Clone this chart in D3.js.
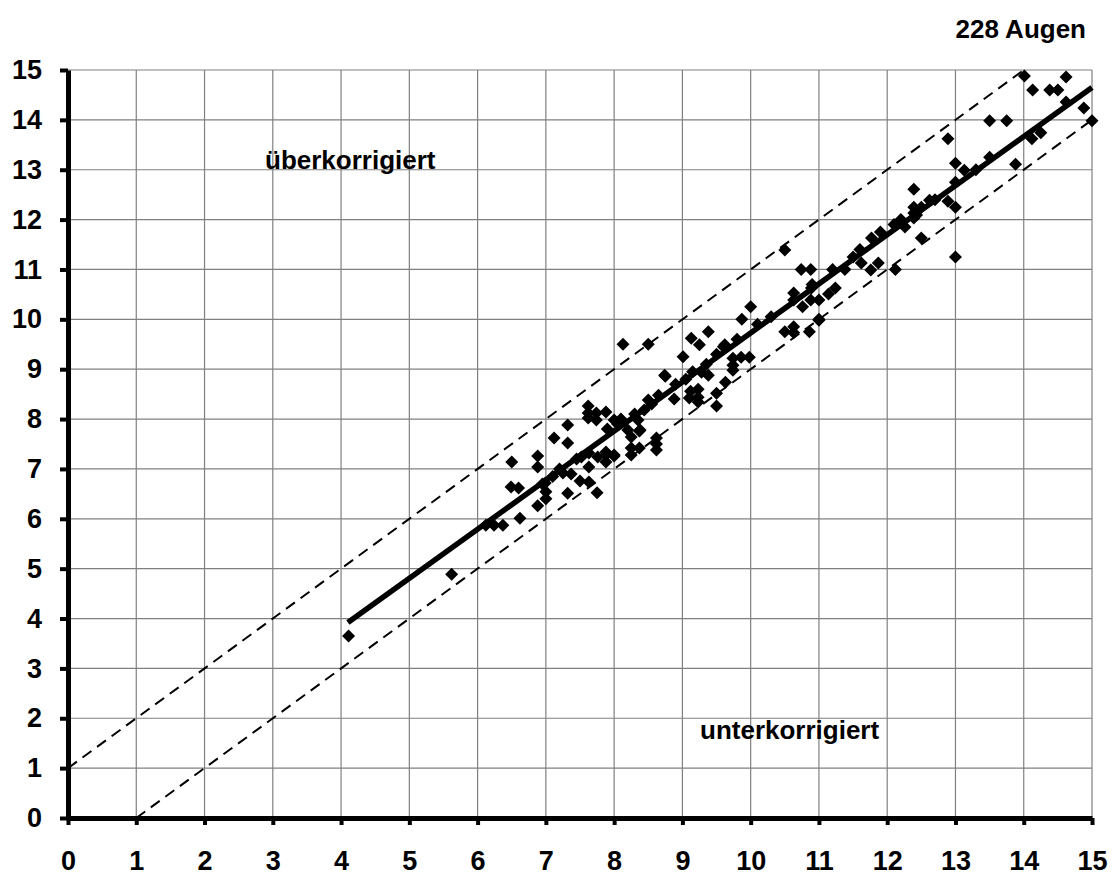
<!DOCTYPE html>
<html>
<head>
<meta charset="utf-8">
<script src="https://cdn.jsdelivr.net/npm/d3@7"></script>
<style>
  body { margin: 0; background: #fff; }
  text { font-family: Arial, "Liberation Sans", sans-serif; font-weight: bold; }
</style>
</head>
<body>
<svg id="chart"></svg>
<script>
var width = 1116,
    height = 877;

// Messwerte (x = geplant, y = erreicht)
var pointsX = [4.11, 5.62, 6.12, 6.24, 6.37, 6.62, 6.49, 6.6, 6.5, 6.88, 6.88, 6.88, 6.99, 7.0, 7.0,
  7.12, 7.32, 7.32, 7.32, 7.25, 7.37, 7.5, 7.63, 7.75, 7.62, 7.62, 7.74, 7.88, 7.62, 7.74,
  7.52, 7.63, 7.76, 7.88, 7.88, 8.0, 7.63, 7.88, 8.0, 7.45, 7.2, 7.1, 6.95,
  8.13, 8.5, 8.74, 8.88, 8.2, 8.38, 8.25, 8.25, 8.37, 8.25, 8.37, 8.62, 8.62, 8.62, 8.35,
  8.44, 8.5, 8.65, 8.0, 8.1, 7.9, 8.05, 8.3, 8.55,
  9.13, 9.25, 9.38, 9.01, 8.75, 9.12, 9.23, 9.1, 9.23, 9.23, 9.28, 9.15, 9.05, 8.9, 9.35,
  9.5, 9.5, 9.63, 9.38, 9.62, 9.74, 9.74, 9.74, 9.86, 9.98, 9.5, 9.6, 9.8,
  10.5, 10.63, 10.63, 10.86, 11.0, 10.1, 10.3, 10.5, 10.74, 10.88, 11.77, 12.26, 12.5,
  11.62, 11.87, 11.76, 12.12, 11.5, 11.38, 10.89, 10.63, 10.63, 11.24, 11.14, 11.0, 10.88,
  10.76, 10.0, 9.87, 11.0, 10.9, 11.2, 11.6, 11.9, 12.1, 12.2,
  13.5, 12.89, 13.0, 13.13, 13.0, 12.39, 12.62, 12.89, 13.0, 12.39, 12.39, 12.5, 12.43, 12.39,
  13.0, 13.5, 14.01, 14.13, 14.38, 14.5, 14.62, 14.62, 14.88, 15.0, 13.75, 14.12, 14.25,
  13.88, 13.3, 12.7];
var pointsY = [3.65, 4.89, 5.87, 5.87, 5.87, 6.01, 6.64, 6.62, 7.14, 7.26, 7.04, 6.26, 6.72, 6.54, 6.4,
  7.62, 7.88, 7.52, 6.51, 6.92, 6.9, 6.76, 6.74, 6.52, 8.26, 8.12, 8.12, 8.14, 8.02, 7.98,
  7.24, 7.32, 7.24, 7.34, 7.14, 7.26, 7.04, 7.28, 7.28, 7.2, 7.0, 6.85, 6.7,
  9.5, 9.5, 8.88, 8.4, 7.78, 7.78, 7.64, 7.42, 7.42, 7.28, 7.76, 7.62, 7.5, 7.38, 7.98,
  8.18, 8.38, 8.48, 7.98, 8.0, 7.8, 7.9, 8.1, 8.3,
  9.62, 9.49, 9.75, 9.25, 8.86, 8.56, 8.6, 8.42, 8.44, 8.34, 8.94, 8.95, 8.8, 8.7, 9.1,
  8.52, 8.26, 8.74, 8.88, 9.49, 9.22, 9.08, 8.98, 9.24, 9.24, 9.3, 9.45, 9.6,
  9.75, 9.85, 9.73, 9.75, 9.98, 9.9, 10.05, 11.39, 11.0, 11.0, 11.63, 11.85, 11.63,
  11.13, 11.13, 10.99, 11.0, 11.25, 11.0, 10.63, 10.53, 10.39, 10.63, 10.51, 10.39, 10.39,
  10.25, 10.25, 10.0, 10.0, 10.7, 11.0, 11.4, 11.75, 11.9, 12.0,
  13.98, 13.62, 13.13, 12.99, 12.75, 12.61, 12.39, 12.37, 12.25, 12.25, 12.13, 12.25, 12.09, 12.03,
  11.25, 13.25, 14.88, 14.6, 14.6, 14.6, 14.86, 14.36, 14.24, 13.98, 13.98, 13.62, 13.74,
  13.11, 13.0, 12.4];

// Regressionsgerade
var regX = [4.1, 15],
    regY = [3.92, 14.65];

// Toleranzgrenzen +/- 1
var upperX = [0, 14], upperY = [1, 15];
var lowerX = [1, 15], lowerY = [0, 14];

var ticks = d3.range(0, 16);

var svg = d3.select("#chart")
    .attr("width", width)
    .attr("height", height);

var x = d3.scaleLinear().domain([0, 15]).range([68, 1092]);
var y = d3.scaleLinear().domain([0, 15]).range([818, 70]);

// gitter
var grid = svg.append("g");
grid.selectAll(".vgrid")
    .data(ticks.slice(1))
    .enter().append("line")
    .attr("x1", function(d) { return x(d); })
    .attr("x2", function(d) { return x(d); })
    .attr("y1", y(0))
    .attr("y2", y(15))
    .style("stroke", "#808080")
    .style("stroke-width", 1.2);
grid.selectAll(".hgrid")
    .data(ticks.slice(1))
    .enter().append("line")
    .attr("x1", x(0))
    .attr("x2", x(15))
    .attr("y1", function(d) { return y(d); })
    .attr("y2", function(d) { return y(d); })
    .style("stroke", "#808080")
    .style("stroke-width", 1.2);

var line = d3.line()
    .x(function(d) { return x(d[0]); })
    .y(function(d) { return y(d[1]); });

svg.append("path")
    .attr("d", line(d3.zip(upperX, upperY)))
    .style("fill", "none")
    .style("stroke", "#000")
    .style("stroke-width", 2)
    .style("stroke-dasharray", "11,7");
svg.append("path")
    .attr("d", line(d3.zip(lowerX, lowerY)))
    .style("fill", "none")
    .style("stroke", "#000")
    .style("stroke-width", 2)
    .style("stroke-dasharray", "11,7");

// punkte
svg.append("g").selectAll("path")
    .data(d3.zip(pointsX, pointsY))
    .enter().append("path")
    .attr("d", "M0,-6.5L6.5,0L0,6.5L-6.5,0Z")
    .attr("transform", function(d) { return "translate(" + x(d[0]) + "," + y(d[1]) + ")"; })
    .style("fill", "#000");

svg.append("path")
    .attr("d", line(d3.zip(regX, regY)))
    .style("fill", "none")
    .style("stroke", "#000")
    .style("stroke-width", 5.5);

// achsen
var xAxis = svg.append("g")
    .attr("transform", "translate(0," + y(0) + ")")
    .call(d3.axisBottom(x).tickValues(ticks).tickSize(7).tickSizeOuter(0).tickPadding(26));
var yAxis = svg.append("g")
    .attr("transform", "translate(" + x(0) + ",0)")
    .call(d3.axisLeft(y).tickValues(ticks).tickSize(8).tickSizeOuter(0).tickPadding(18));

[xAxis, yAxis].forEach(function(a) {
    a.select(".domain").style("stroke", "#000").style("stroke-width", 5);
    a.selectAll(".tick line").style("stroke", "#000").style("stroke-width", 4);
    a.selectAll(".tick text")
        .style("font-size", "27px")
        .style("font-family", "Arial, 'Liberation Sans', sans-serif")
        .style("font-weight", "bold")
        .style("fill", "#000");
});

svg.append("text")
    .attr("x", 1086)
    .attr("y", 38)
    .attr("text-anchor", "end")
    .style("font-size", "26px")
    .text("228 Augen");

svg.append("text")
    .attr("x", 265)
    .attr("y", 169)
    .style("font-size", "26px")
    .text("überkorrigiert");

svg.append("text")
    .attr("x", 700)
    .attr("y", 739)
    .style("font-size", "26px")
    .text("unterkorrigiert");
</script>
</body>
</html>
